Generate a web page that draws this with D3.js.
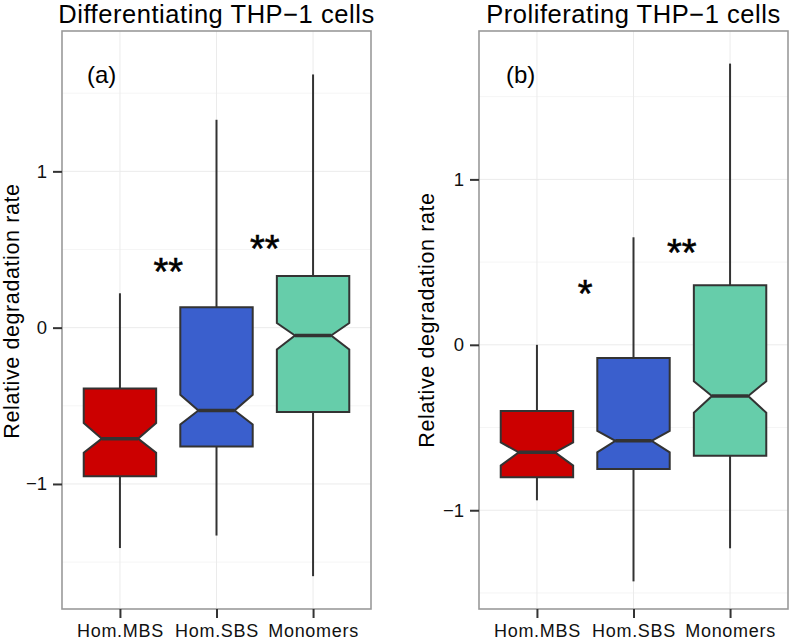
<!DOCTYPE html>
<html>
<head>
<meta charset="utf-8">
<script src="https://cdn.jsdelivr.net/npm/d3@7"></script>
<style>
  body { margin: 0; background: #fff; }
  svg { display: block; font-family: "Liberation Sans", Arial, Helvetica, sans-serif; }
</style>
</head>
<body>
<svg id="chart" width="794" height="641"></svg>
<script>
// ---- data ----
const categories = ["Hom.MBS", "Hom.SBS", "Monomers"];
const boxColors = ["#CC0000", "#3A5FCD", "#66CDAA"];
const yTicks = [-1, 0, 1];
const yMinor = [-1.5, -0.5, 0.5, 1.5];

// Differentiating THP-1 cells
const diffLower   = [-1.41, -1.33, -1.59];
const diffQ1      = [-0.95, -0.76, -0.54];
const diffNotchLo = [-0.80, -0.62, -0.14];
const diffMedian  = [-0.71, -0.53, -0.05];
const diffNotchHi = [-0.61, -0.43, 0.03];
const diffQ3      = [-0.39, 0.13, 0.33];
const diffUpper   = [0.22, 1.33, 1.62];
const diffStars   = ["**", "**"];
const diffStarX   = [1.5, 2.5];
const diffStarY   = [0.446, 0.593];

// Proliferating THP-1 cells
const prolLower   = [-0.94, -1.43, -1.23];
const prolQ1      = [-0.80, -0.75, -0.67];
const prolNotchLo = [-0.73, -0.65, -0.41];
const prolMedian  = [-0.65, -0.58, -0.31];
const prolNotchHi = [-0.59, -0.52, -0.22];
const prolQ3      = [-0.40, -0.08, 0.36];
const prolUpper   = [0.00, 0.65, 1.70];
const prolStars   = ["*", "**"];
const prolStarX   = [1.5, 2.5];
const prolStarY   = [0.393, 0.639];

const svg = d3.select("#chart");

function panel(cfg) {
  const { left, right, top, bottom, yDomain, title, tag, tagDx, lower, q1, nlo, med, nhi, q3, upper, stars, starX, starY, ylabX, ylabY } = cfg;
  const g = svg.append("g");
  const x = d3.scalePoint().domain(categories).range([left, right]).padding(0.6);
  const xi = d3.scaleLinear().domain([0.4, 3.6]).range([left, right]);
  const y = d3.scaleLinear().domain(yDomain).range([bottom, top]);
  const step = x.step();
  const bw = step * 0.75;

  // background grid
  g.selectAll("line.minor").data(yMinor).join("line")
    .attr("x1", left).attr("x2", right)
    .attr("y1", d => y(d)).attr("y2", d => y(d))
    .attr("stroke", "#f5f5f5").attr("stroke-width", 1);
  g.selectAll("line.majorY").data(yTicks).join("line")
    .attr("x1", left).attr("x2", right)
    .attr("y1", d => y(d)).attr("y2", d => y(d))
    .attr("stroke", "#ebebeb").attr("stroke-width", 1);
  g.selectAll("line.majorX").data(categories).join("line")
    .attr("x1", d => x(d)).attr("x2", d => x(d))
    .attr("y1", top).attr("y2", bottom)
    .attr("stroke", "#ebebeb").attr("stroke-width", 1);

  const data = categories.map((c, i) => ({ c, i, lower: lower[i], q1: q1[i], nlo: nlo[i], med: med[i], nhi: nhi[i], q3: q3[i], upper: upper[i], color: boxColors[i] }));

  // whiskers
  g.selectAll("line.wu").data(data).join("line")
    .attr("x1", d => x(d.c)).attr("x2", d => x(d.c))
    .attr("y1", d => y(d.upper)).attr("y2", d => y(d.q3))
    .attr("stroke", "#333").attr("stroke-width", 2);
  g.selectAll("line.wl").data(data).join("line")
    .attr("x1", d => x(d.c)).attr("x2", d => x(d.c))
    .attr("y1", d => y(d.q1)).attr("y2", d => y(d.lower))
    .attr("stroke", "#333").attr("stroke-width", 2);

  // notched boxes
  g.selectAll("path.box").data(data).join("path")
    .attr("d", d => {
      const cx = x(d.c), x0 = cx - bw / 2, x1 = cx + bw / 2, n0 = cx - bw / 4, n1 = cx + bw / 4;
      const p = d3.path();
      p.moveTo(x0, y(d.q3)); p.lineTo(x1, y(d.q3)); p.lineTo(x1, y(d.nhi));
      p.lineTo(n1, y(d.med)); p.lineTo(x1, y(d.nlo)); p.lineTo(x1, y(d.q1));
      p.lineTo(x0, y(d.q1)); p.lineTo(x0, y(d.nlo)); p.lineTo(n0, y(d.med));
      p.lineTo(x0, y(d.nhi)); p.closePath();
      return p.toString();
    })
    .attr("fill", d => d.color).attr("stroke", "#333").attr("stroke-width", 2)
    .attr("stroke-linejoin", "miter");
  g.selectAll("line.med").data(data).join("line")
    .attr("x1", d => x(d.c) - bw / 4).attr("x2", d => x(d.c) + bw / 4)
    .attr("y1", d => y(d.med)).attr("y2", d => y(d.med))
    .attr("stroke", "#333").attr("stroke-width", 3.5);

  // significance stars
  g.selectAll("text.star").data(stars).join("text")
    .attr("x", (d, i) => xi(starX[i])).attr("y", (d, i) => y(starY[i]))
    .attr("text-anchor", "middle").attr("font-size", 38).attr("fill", "#000")
    .attr("stroke", "#000").attr("stroke-width", 0.6)
    .attr("dy", "0.72em")
    .text(d => d);

  // tag
  g.append("text").attr("x", left + tagDx).attr("y", top + 52)
    .attr("text-anchor", "start").attr("font-size", 24)
    .attr("fill", "#000").text(tag);

  // border
  g.append("rect").attr("x", left).attr("y", top).attr("width", right - left).attr("height", bottom - top)
    .attr("fill", "none").attr("stroke", "#9a9a9a").attr("stroke-width", 1.6);

  // axes
  const ya = g.append("g").attr("transform", `translate(${left},0)`)
    .call(d3.axisLeft(y).tickValues(yTicks).tickSize(9).tickPadding(6).tickFormat(d3.format("d")));
  ya.select(".domain").remove();
  ya.selectAll(".tick line").attr("stroke", "#333").attr("stroke-width", 2);
  ya.selectAll(".tick text").attr("font-size", 18.5).attr("fill", "#111")
    .attr("font-family", "Liberation Sans, Arial, sans-serif");

  const xa = g.append("g").attr("transform", `translate(0,${bottom})`)
    .call(d3.axisBottom(x).tickSize(9).tickPadding(6.5));
  xa.select(".domain").remove();
  xa.selectAll(".tick line").attr("stroke", "#333").attr("stroke-width", 2);
  xa.selectAll(".tick text").attr("font-size", 18).attr("letter-spacing", 0.7).attr("fill", "#111")
    .attr("font-family", "Liberation Sans, Arial, sans-serif");

  // title
  g.append("text").attr("x", (left + right) / 2).attr("y", 23.3)
    .attr("text-anchor", "middle").attr("font-size", 25.5).attr("letter-spacing", 0.55)
    .attr("fill", "#000").text(title);

  // y label
  g.append("text").attr("transform", `translate(${ylabX},${ylabY}) rotate(-90)`)
    .attr("text-anchor", "middle").attr("font-size", 21.5).attr("letter-spacing", 0.6)
    .attr("fill", "#000").text("Relative degradation rate");
}

panel({ left: 62, right: 371, top: 31, bottom: 609, yDomain: [-1.80, 1.898], title: "Differentiating THP\u22121 cells", tag: "(a)", tagDx: 25,
  lower: diffLower, q1: diffQ1, nlo: diffNotchLo, med: diffMedian, nhi: diffNotchHi, q3: diffQ3, upper: diffUpper,
  stars: diffStars, starX: diffStarX, starY: diffStarY, ylabX: 18.5, ylabY: 311 });
panel({ left: 479, right: 788, top: 31, bottom: 609, yDomain: [-1.597, 1.897], title: "Proliferating THP\u22121 cells", tag: "(b)", tagDx: 27,
  lower: prolLower, q1: prolQ1, nlo: prolNotchLo, med: prolMedian, nhi: prolNotchHi, q3: prolQ3, upper: prolUpper,
  stars: prolStars, starX: prolStarX, starY: prolStarY, ylabX: 434, ylabY: 320 });
</script>
</body>
</html>
